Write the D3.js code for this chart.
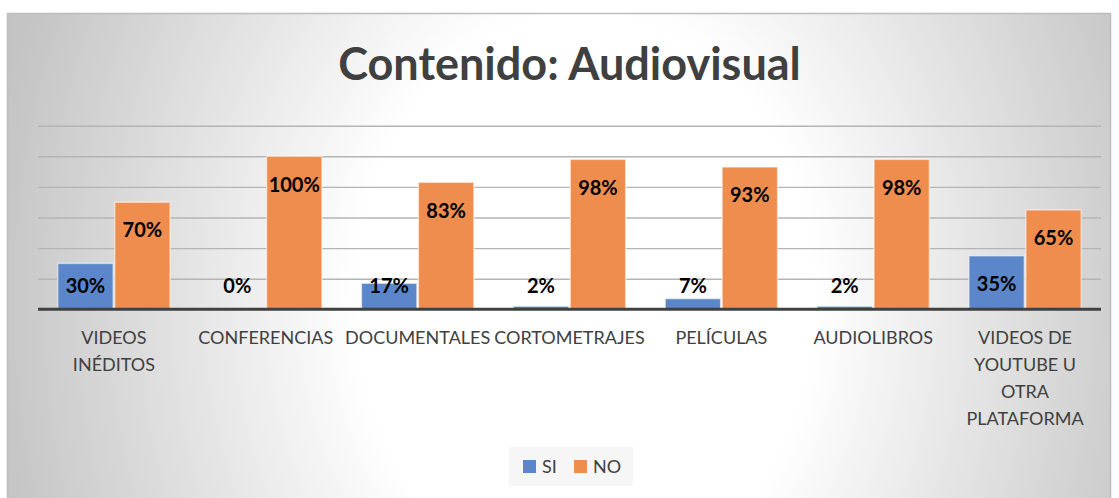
<!DOCTYPE html>
<html>
<head>
<meta charset="utf-8">
<script src="https://cdn.jsdelivr.net/npm/d3@7"></script>
<style>
  html, body { margin: 0; padding: 0; background: #ffffff; }
  svg { display: block; }
</style>
</head>
<body>
<svg id="chart" width="1119" height="498"></svg>
<script>
// Survey results: share of respondents answering SI / NO per content type
const categories = [
  "VIDEOS\nINÉDITOS",
  "CONFERENCIAS",
  "DOCUMENTALES",
  "CORTOMETRAJES",
  "PELÍCULAS",
  "AUDIOLIBROS",
  "VIDEOS DE\nYOUTUBE U\nOTRA\nPLATAFORMA"
];
const seriesNames = ["SI", "NO"];
const siValues = [0.30, 0.00, 0.17, 0.02, 0.07, 0.02, 0.35];
const noValues = [0.70, 1.00, 0.83, 0.98, 0.93, 0.98, 0.65];
const gridTicks = [0, 0.2, 0.4, 0.6, 0.8, 1.0, 1.2];
const titleText = "Contenido: Audiovisual";

const colors = { SI: "#5b86c9", NO: "#ee8d4e" };

const svg = d3.select("#chart");

// Background panel with radial grey-white gradient
const defs = svg.append("defs");
const grad = defs.append("radialGradient")
  .attr("id", "bgGrad")
  .attr("gradientUnits", "userSpaceOnUse")
  .attr("cx", 585).attr("cy", 300).attr("r", 600)
  .attr("fx", 585).attr("fy", 300)
  .attr("gradientTransform", "translate(585,300) scale(1,1.25) translate(-585,-300)");
grad.append("stop").attr("offset", "0%").attr("stop-color", "#ffffff");
grad.append("stop").attr("offset", "38%").attr("stop-color", "#ffffff");
grad.append("stop").attr("offset", "100%").attr("stop-color", "#c4c4c4");

svg.append("rect")
  .attr("x", 7.5).attr("y", 13.5)
  .attr("width", 1103).attr("height", 500)
  .attr("fill", "url(#bgGrad)")
  .attr("stroke", "#bdbdbd").attr("stroke-width", 1.5);

// Plot area
const plot = { left: 38, right: 1101, top: 125.7, bottom: 309.3 };

const x0 = d3.scaleBand()
  .domain(categories)
  .range([plot.left, plot.right])
  .paddingInner(0.25)
  .paddingOuter(0.125);

const x1 = d3.scaleBand()
  .domain(seriesNames)
  .range([0, x0.bandwidth()]);

const y = d3.scaleLinear()
  .domain([0, 1.2])
  .range([plot.bottom, plot.top]);

// Horizontal gridlines
const grid = svg.append("g")
  .attr("transform", `translate(${plot.left},0)`)
  .call(d3.axisLeft(y)
    .tickValues(gridTicks.filter(t => t > 0))
    .tickSize(-(plot.right - plot.left))
    .tickFormat(""));
grid.select(".domain").remove();
grid.selectAll(".tick line")
  .attr("stroke", "#b4b4b4")
  .attr("stroke-width", 1.4);

// Bars
const rows = categories.map((c, i) => ({ cat: c, SI: siValues[i], NO: noValues[i] }));

const groups = svg.append("g").selectAll("g")
  .data(rows)
  .join("g")
  .attr("transform", d => `translate(${x0(d.cat)},0)`);

groups.selectAll("rect")
  .data(d => seriesNames.map(s => ({ key: s, value: d[s] })))
  .join("rect")
  .attr("x", d => x1(d.key) + 0.75)
  .attr("width", x1.bandwidth() - 1.5)
  .attr("y", d => y(d.value))
  .attr("height", d => y(0) - y(d.value))
  .attr("fill", d => colors[d.key])
  .attr("stroke", "rgba(255,255,255,0.55)")
  .attr("stroke-width", d => d.value > 0 ? 1.5 : 0);

// Value labels, placed inside the top of each bar
const labelMaxY = y(0) - 24;
groups.selectAll("text.val")
  .data(d => seriesNames.map(s => ({ key: s, value: d[s] })))
  .join("text")
  .attr("class", "val")
  .attr("x", d => x1(d.key) + x1.bandwidth() / 2)
  .attr("y", d => Math.min(y(d.value) + 28, labelMaxY))
  .attr("dy", "0.36em")
  .attr("text-anchor", "middle")
  .attr("font-family", "Lato, 'Open Sans', sans-serif")
  .attr("font-weight", 700)
  .attr("font-size", 20)
  .attr("fill", "#000000")
  .text(d => d3.format(".0%")(d.value));

// Category axis baseline
svg.append("line")
  .attr("x1", plot.left).attr("x2", plot.right)
  .attr("y1", y(0)).attr("y2", y(0))
  .attr("stroke", "#404040").attr("stroke-width", 3);

// Category labels (multi-line)
const catLabels = svg.append("g").selectAll("text")
  .data(categories)
  .join("text")
  .attr("x", d => x0(d) + x0.bandwidth() / 2)
  .attr("y", 344)
  .attr("text-anchor", "middle")
  .attr("font-family", "Lato, 'Open Sans', sans-serif")
  .attr("font-size", 18)
  .attr("fill", "#404040");
catLabels.selectAll("tspan")
  .data(d => d.split("\n"))
  .join("tspan")
  .attr("x", function () { return d3.select(this.parentNode).attr("x"); })
  .attr("dy", (d, i) => i === 0 ? 0 : 27)
  .text(d => d);

// Title
svg.append("text")
  .attr("x", (plot.left + plot.right) / 2)
  .attr("y", 80)
  .attr("text-anchor", "middle")
  .attr("font-family", "Lato, 'Open Sans', sans-serif")
  .attr("font-weight", 700)
  .attr("font-size", 45)
  .attr("fill", "#404040")
  .text(titleText);

// Legend
const legend = svg.append("g").attr("transform", "translate(509,447)");
legend.append("rect")
  .attr("width", 124).attr("height", 39)
  .attr("fill", "#eeeeee").attr("fill-opacity", 0.5);
const items = legend.selectAll("g.item")
  .data(seriesNames)
  .join("g")
  .attr("class", "item")
  .attr("transform", (d, i) => `translate(${14 + i * 51},0)`);
items.append("rect")
  .attr("y", 13).attr("width", 13).attr("height", 13)
  .attr("fill", d => colors[d]);
items.append("text")
  .attr("x", 19).attr("y", 26)
  .attr("font-family", "Lato, 'Open Sans', sans-serif")
  .attr("font-size", 18)
  .attr("fill", "#404040")
  .text(d => d);
</script>
</body>
</html>
